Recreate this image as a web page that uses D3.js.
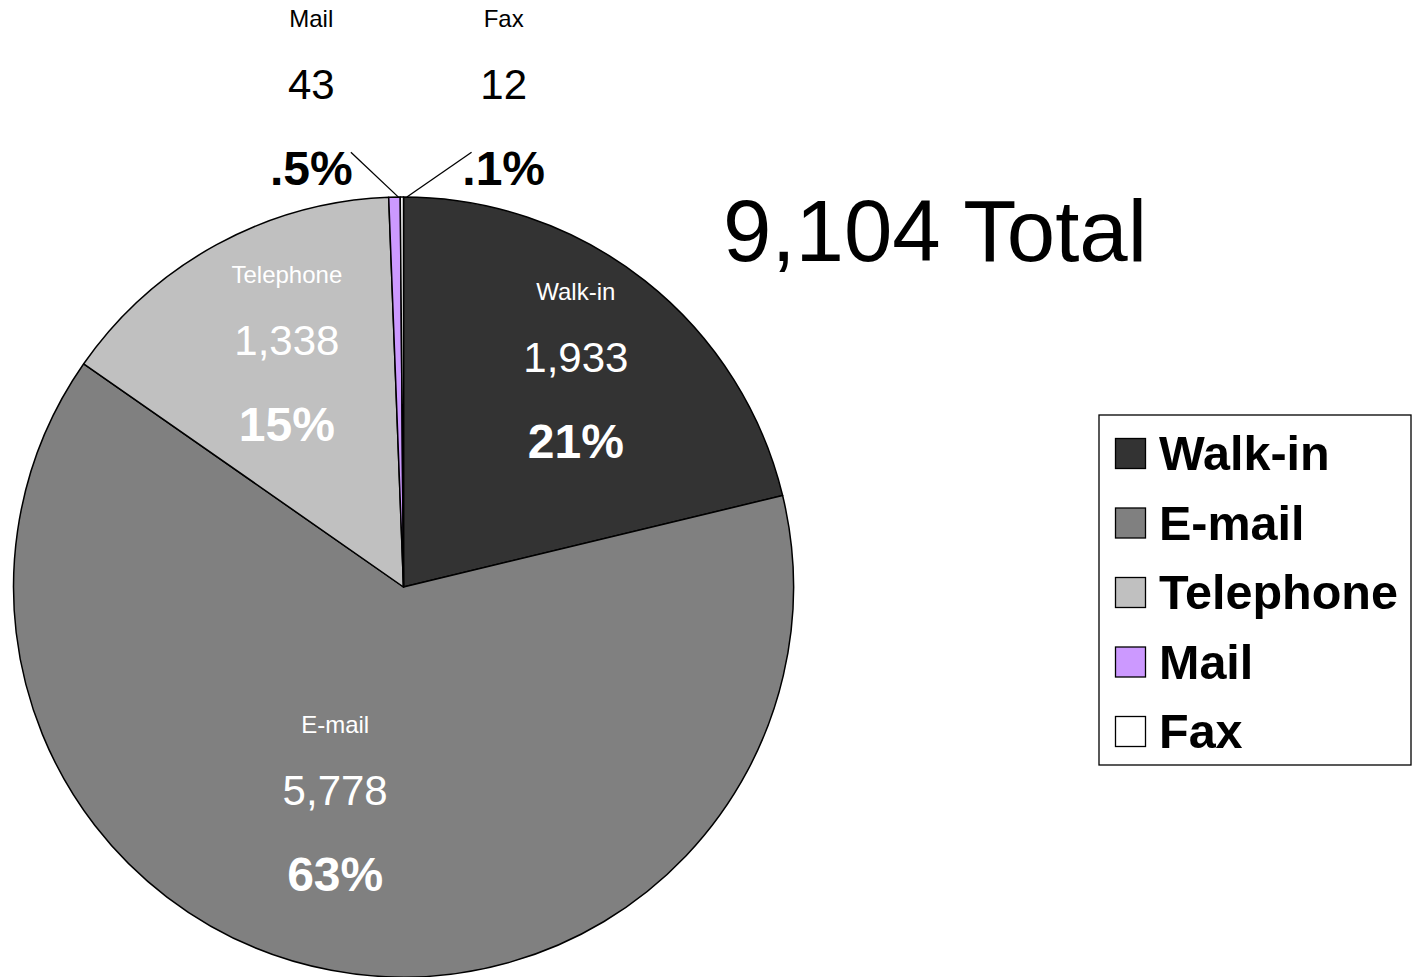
<!DOCTYPE html>
<html>
<head>
<meta charset="utf-8">
<script src="https://cdn.jsdelivr.net/npm/d3@7"></script>
<style>
  html, body { margin: 0; padding: 0; background: #fff; }
  svg { display: block; font-family: "Liberation Sans", Arial, Helvetica, sans-serif; }
</style>
</head>
<body>
<svg id="chart" width="1418" height="977"></svg>
<script>
// ---- data ----
const categories = ["Walk-in", "E-mail", "Telephone", "Mail", "Fax"];
const values = [1933, 5778, 1338, 43, 12];
const colors = ["#333333", "#808080", "#C0C0C0", "#CC99FF", "#FFFFFF"];
const totalSuffix = " Total";

// ---- layout (not data) ----
const W = 1418, H = 977;
const cx = 403.5, cy = 587, R = 390;
// label anchor (value-line baseline) in polar coords: [angle deg clockwise from top, radius px]
const labelPolar = [[38.7, 275.6], [197.4, 228.5], [-26.7, 259.6], [-10.7, 496.7], [11.6, 498.2]];
const labelInside = [true, true, true, false, false];
// leader line starts (polar) for outside labels
const leaderPolar = [null, null, null, [-6.9, 438], [8.9, 440]];

const svg = d3.select("#chart");
const total = d3.sum(values);
const data = categories.map((c, i) => ({ name: c, value: values[i], color: colors[i], i }));

const pie = d3.pie().sort(null).value(d => d.value);
const arcs = pie(data);
const arc = d3.arc().innerRadius(0).outerRadius(R);

const g = svg.append("g").attr("transform", `translate(${cx},${cy})`);
g.selectAll("path.slice")
  .data(arcs)
  .enter().append("path")
  .attr("class", "slice")
  .attr("d", arc)
  .attr("fill", d => d.data.color)
  .attr("stroke", "#000")
  .attr("stroke-width", 1.5)
  .attr("stroke-linejoin", "round");

const polar = (deg, r) => {
  const a = deg * Math.PI / 180;
  return [r * Math.sin(a), -r * Math.cos(a)];
};

const fmtNum = d3.format(",");
const fmtPct = v => {
  const p = v / total;
  if (p >= 0.01) return d3.format(".0%")(p);
  return d3.format(".1%")(p).replace(/^0/, "");
};

// leader lines
arcs.forEach((a, i) => {
  if (!leaderPolar[i]) return;
  const mid = (a.startAngle + a.endAngle) / 2;
  const ex = (R + 2) * Math.sin(mid), ey = -(R + 2) * Math.cos(mid);
  const [sx, sy] = polar(leaderPolar[i][0], leaderPolar[i][1]);
  g.append("line")
    .attr("x1", sx).attr("y1", sy)
    .attr("x2", ex + (i === 3 ? 4 : 5)).attr("y2", ey + 2)
    .attr("stroke", "#000").attr("stroke-width", 1.3);
});

// labels
arcs.forEach((a, i) => {
  const [lx, ly] = polar(labelPolar[i][0], labelPolar[i][1]);
  const fill = labelInside[i] ? "#fff" : "#000";
  const lg = g.append("g").attr("transform", `translate(${lx},${ly})`)
    .attr("text-anchor", "middle").attr("fill", fill);
  lg.append("text").attr("y", -72).attr("font-size", 24).text(a.data.name);
  lg.append("text").attr("y", 0).attr("font-size", 42).text(fmtNum(a.data.value));
  lg.append("text").attr("y", 86).attr("font-size", 48).attr("font-weight", "bold").text(fmtPct(a.data.value));
});

// total
svg.append("text")
  .attr("x", 723).attr("y", 261)
  .attr("font-size", 87)
  .attr("fill", "#000")
  .text(fmtNum(total) + totalSuffix);

// legend
const lgX = 1099, lgY = 415, lgW = 312, lgH = 350;
const legend = svg.append("g");
legend.append("rect")
  .attr("x", lgX).attr("y", lgY).attr("width", lgW).attr("height", lgH)
  .attr("fill", "#fff").attr("stroke", "#000").attr("stroke-width", 1.3);
const rowY = d3.scalePoint().domain(categories).range([470, 748]);
const rows = legend.selectAll("g.row").data(data).enter().append("g").attr("class", "row");
rows.append("rect")
  .attr("x", 1115.5).attr("y", d => rowY(d.name) - 31.5)
  .attr("width", 30).attr("height", 30)
  .attr("fill", d => d.color).attr("stroke", "#000").attr("stroke-width", 1.3);
rows.append("text")
  .attr("x", 1159).attr("y", d => rowY(d.name))
  .attr("font-size", 48.5).attr("font-weight", "bold").attr("fill", "#000")
  .text(d => d.name);
</script>
</body>
</html>
